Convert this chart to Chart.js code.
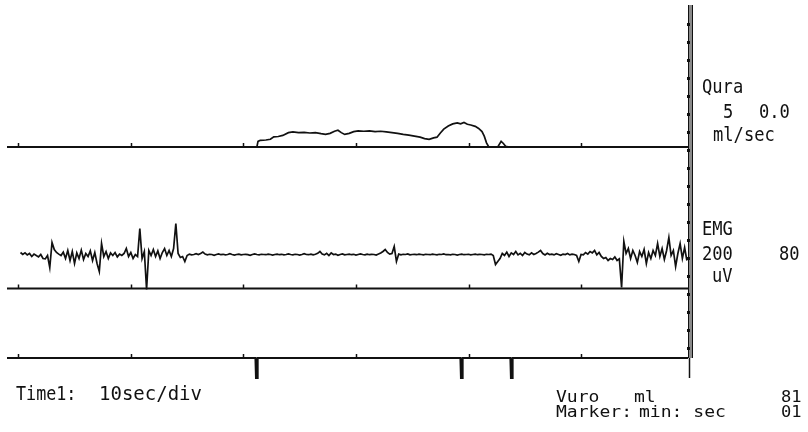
<!DOCTYPE html>
<html>
<head>
<meta charset="utf-8">
<script src="https://cdn.jsdelivr.net/npm/chart.js@4.4.1/dist/chart.umd.min.js"></script>
<style>
  html, body { margin: 0; padding: 0; background: #fff; }
  #wrap { width: 808px; height: 432px; position: relative; }
</style>
</head>
<body>
<div id="wrap"><canvas id="trace" width="808" height="432"></canvas></div>
<script>
// Recording window in seconds, with a division mark every 10 s
const TIME_MIN = -1.0;
const TIME_MAX = 59.5;
const DIVISION_TICKS = [0, 10, 20, 30, 40, 50];

// Uroflow channel: time (s) and flow rate (ml/s)
const flowTimes = [-1.0, 21.2, 21.3, 21.5, 22.0, 22.4, 22.7, 23.1, 23.5, 24.0, 24.4, 24.9, 25.4, 25.9,
  26.4, 26.9, 27.3, 27.7, 28.1, 28.4, 28.7, 29.0, 29.4, 29.8, 30.2, 30.7, 31.2, 31.7, 32.2, 32.7,
  33.2, 33.7, 34.2, 34.7, 35.2, 35.7, 36.1, 36.5, 36.9, 37.2, 37.5, 37.8, 38.2, 38.6, 39.0, 39.3,
  39.6, 39.9, 40.2, 40.6, 40.9, 41.2, 41.4, 41.6, 41.8, 42.6, 42.9, 43.1, 43.3, 43.6, 59.5];
const flowRates = [0, 0, 1.6, 1.9, 2.0, 2.2, 2.9, 3.0, 3.3, 4.1, 4.3, 4.1, 4.2, 4.0,
  4.1, 3.8, 3.6, 3.9, 4.5, 4.8, 4.1, 3.6, 3.9, 4.4, 4.6, 4.5, 4.6, 4.4, 4.5, 4.3,
  4.1, 3.9, 3.6, 3.4, 3.1, 2.8, 2.4, 2.2, 2.6, 2.8, 4.0, 5.1, 6.0, 6.6, 6.9, 6.6,
  7.0, 6.5, 6.3, 5.9, 5.3, 4.4, 3.1, 1.2, 0, 0, 1.6, 1.0, 0.2, 0, 0];

// EMG channel: one sample every 0.2 s starting at 0.2 s, amplitude in uV
const EMG_START = 0.2;
const EMG_STEP = 0.2;
const emgValues = [
  180, 170, 178, 168, 175, 160, 172, 165, 158, 170,
  150, 148, 165, 105, 230, 195, 180, 172, 165, 182,
  150, 190, 140, 185, 125, 178, 150, 192, 145, 175,
  160, 188, 140, 180, 125, 85, 225, 160, 185, 150,
  178, 165, 180, 158, 172, 165, 175, 200, 160, 180,
  150, 170, 160, 300, 150, 185, -5, 190, 165, 195,
  160, 188, 150, 180, 200, 165, 190, 160, 200, 325,
  175, 155,
  160, 135, 165, 172, 168, 170, 174, 170, 175, 182,
  172, 168, 171, 170, 166, 170, 173, 169, 171, 168,
  170, 174, 170, 167, 170, 172, 168, 170, 171, 169,
  166, 170, 173, 170, 168, 171, 170, 169, 172, 170,
  167, 170, 172, 169, 171, 168, 170, 173, 170, 168,
  171, 170, 167, 170, 174, 170, 169, 172, 168, 171,
  176, 185, 172, 168, 176, 165, 178, 170, 172, 166,
  170, 173, 168, 170, 172, 169, 171, 167, 170, 173,
  170, 168, 172, 169, 171, 170, 167, 172, 178, 185,
  195, 180, 172, 175, 210, 135, 172, 168, 171, 170,
  173, 168, 170, 171, 169, 172, 170, 168, 171, 170,
  169, 172, 170, 168, 171, 170, 173, 169, 170, 168,
  171, 170, 167, 170, 172, 169, 170, 171, 168, 170,
  172, 169, 171, 170, 168, 171, 170, 172, 165, 120,
  135, 150, 175, 165, 182, 160, 178, 170, 185, 168,
  176, 165, 180, 172, 168, 178, 170, 175, 182, 190,
  175, 168, 176, 170, 172, 168, 174, 170, 166, 172,
  170, 175, 168, 172, 170, 165, 135, 170, 168, 180,
  172, 185, 178, 190, 168, 180, 160, 150, 155, 140,
  150, 145, 158, 140, 148,
  5, 235, 175, 200, 150, 190, 165, 130, 185, 160,
  195, 125, 180, 150, 190, 165, 225, 160, 200, 145,
  190, 255, 165, 190, 110, 175, 225, 150, 205, 140
];

// Event marker channel: times (s) of the marker pulses
const markerTimes = [21.17, 39.38, 43.82];

// Channel readouts printed beside the traces
const flowLabel = ['Qura', '5', '0.0', 'ml/sec'];
const emgLabel = ['EMG', '200', '80', 'uV'];
const footerLeft = ['Time1:', '10sec/div'];
const footerRight = [['Vuro', 'ml', '81'], ['Marker:', 'min: sec', '01']];

const INK = '#111111';

const flowPoints = flowTimes.map((t, i) => ({ x: t, y: flowRates[i] }));
const emgPoints = emgValues.map((v, i) => ({ x: EMG_START + i * EMG_STEP, y: v }));
const markerPoints = [{ x: TIME_MIN, y: 0 }];
markerTimes.forEach(t => {
  markerPoints.push({ x: t - 0.1, y: 0 }, { x: t - 0.05, y: -1 }, { x: t + 0.05, y: -1 }, { x: t + 0.1, y: 0 });
});
markerPoints.push({ x: TIME_MAX, y: 0 });
const baseline = [{ x: TIME_MIN, y: 0 }, { x: TIME_MAX, y: 0 }];

// plotter-style lettering: narrow monospace, optionally squashed
function label(ctx, text, x, y, sx, sy) {
  ctx.save();
  ctx.translate(x, y);
  ctx.scale(sx, sy);
  ctx.fillText(text, 0, 0);
  ctx.restore();
}

const recorderFrame = {
  id: 'recorderFrame',
  afterDatasetsDraw(chart) {
    const { ctx, chartArea, scales } = chart;
    const xs = scales.x;
    ctx.save();

    // division marks on each channel baseline
    ctx.strokeStyle = INK;
    ctx.lineWidth = 1.5;
    ['yFlow', 'yEMG', 'yMark'].forEach(id => {
      const y0 = scales[id].getPixelForValue(0);
      DIVISION_TICKS.forEach(t => {
        const px = Math.round(xs.getPixelForValue(t)) + 0.5;
        ctx.beginPath();
        ctx.moveTo(px, y0);
        ctx.lineTo(px, y0 - 4);
        ctx.stroke();
      });
    });

    // channel bar on the right edge
    const bx = chartArea.right;
    const top = chartArea.top;
    const yEnd = scales.yMark.getPixelForValue(0);
    ctx.fillStyle = '#8a8a8a';
    ctx.fillRect(bx, top, 5, yEnd - top);
    ctx.lineWidth = 1;
    ctx.beginPath();
    ctx.moveTo(bx + 0.5, top); ctx.lineTo(bx + 0.5, yEnd);
    ctx.moveTo(bx + 4.5, top); ctx.lineTo(bx + 4.5, yEnd);
    ctx.stroke();
    ctx.fillStyle = INK;
    for (let y = top + 18; y < yEnd; y += 18) ctx.fillRect(bx - 1, y, 3, 3);
    ctx.lineWidth = 1.5;
    ctx.beginPath();
    ctx.moveTo(bx + 1.5, yEnd); ctx.lineTo(bx + 1.5, yEnd + 20);
    ctx.stroke();

    // readouts
    ctx.fillStyle = INK;
    ctx.font = '19px "DejaVu Sans Mono"';
    ctx.textBaseline = 'alphabetic';
    label(ctx, flowLabel[0], 702, 93, 0.9, 1);
    label(ctx, flowLabel[1], 723, 118, 0.9, 1);
    label(ctx, flowLabel[2], 759, 118, 0.9, 1);
    label(ctx, flowLabel[3], 713, 141, 0.9, 1);
    label(ctx, emgLabel[0], 702, 235, 0.9, 1);
    label(ctx, emgLabel[1], 702, 260, 0.9, 1);
    label(ctx, emgLabel[2], 779, 260, 0.9, 1);
    label(ctx, emgLabel[3], 712, 282, 0.9, 1);
    label(ctx, footerLeft[0], 16, 400, 0.88, 1);
    label(ctx, footerLeft[1], 99, 400, 1, 1);
    label(ctx, footerRight[0][0], 556, 402, 0.95, 0.87);
    label(ctx, footerRight[0][1], 634, 402, 0.95, 0.87);
    label(ctx, footerRight[0][2], 781, 402, 0.9, 0.87);
    label(ctx, footerRight[1][0], 556, 417, 0.95, 0.87);
    label(ctx, footerRight[1][1], 639, 417, 0.95, 0.87);
    label(ctx, footerRight[1][2], 781, 417, 0.9, 0.87);
    ctx.restore();
  }
};

const line = (data, axis, width) => ({
  data, yAxisID: axis, borderColor: INK, borderWidth: width,
  pointRadius: 0, tension: 0, fill: false, borderJoinStyle: 'miter'
});

new Chart(document.getElementById('trace'), {
  type: 'line',
  data: {
    datasets: [
      line(baseline, 'yFlow', 2),
      line(flowPoints, 'yFlow', 1.7),
      line(baseline, 'yEMG', 2),
      line(emgPoints, 'yEMG', 1.7),
      line(markerPoints, 'yMark', 2)
    ]
  },
  options: {
    responsive: false,
    animation: false,
    devicePixelRatio: 1,
    layout: { padding: { left: 7, right: 120, top: 5, bottom: 52 } },
    plugins: { legend: { display: false }, tooltip: { enabled: false } },
    scales: {
      x: { type: 'linear', min: TIME_MIN, max: TIME_MAX, display: false },
      // flow: 3.5 px per ml/s
      yFlow: { type: 'linear', min: -66.571, max: 40.571, display: false },
      // EMG: 5 uV per px
      yEMG: { type: 'linear', min: -457.5, max: 1417.5, display: false },
      // marker pulses: unit height
      yMark: { type: 'linear', min: -1.1, max: 17.65, display: false }
    }
  },
  plugins: [recorderFrame]
});
</script>
</body>
</html>
